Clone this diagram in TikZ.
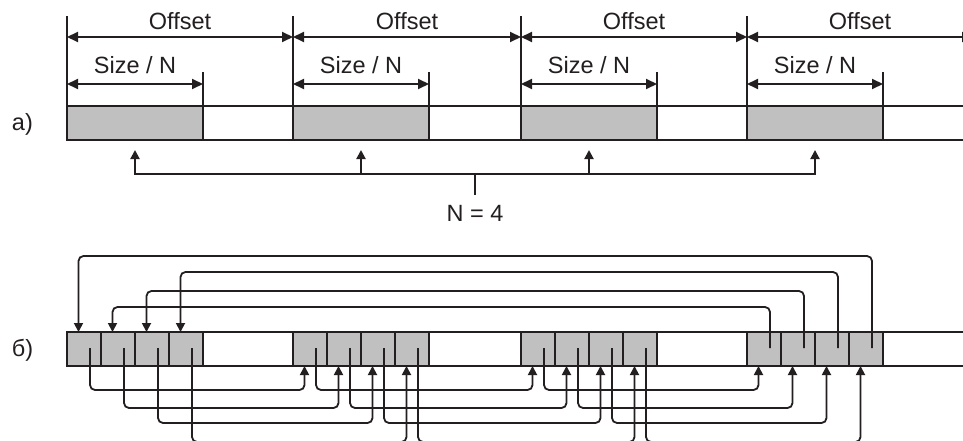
\documentclass[tikz,border=0pt]{standalone}
\usepackage{fontspec}
\setmainfont{Liberation Sans}
\usetikzlibrary{arrows.meta,calc}
\definecolor{ink}{HTML}{231F20}
\definecolor{fillg}{HTML}{C0C0C0}
\begin{document}
\begin{tikzpicture}[x=1pt,y=-1pt,
  color=ink, line width=2pt,
  every node/.style={inner sep=0pt, outer sep=0pt},
  lbl/.style={font=\fontsize{23.5}{27}\selectfont, text=ink, anchor=base},
  dimline/.style={line width=2pt, {Triangle[length=11pt,width=10pt]}-{Triangle[length=11pt,width=10pt]}},
  blk/.style={fill=fillg, draw=ink, line width=2pt, minimum width=136pt, minimum height=34pt, anchor=north west},
  cellbox/.style={fill=fillg, draw=ink, line width=2pt, minimum width=34pt, minimum height=34pt, anchor=north west},
  conn/.style={line width=1.8pt, rounded corners=5pt, -{Triangle[length=9pt,width=9pt]}},
  tipa/.style={line width=2pt, {Triangle[length=9pt,width=9pt]}-{Triangle[length=9pt,width=9pt]}},
]
\useasboundingbox (0,0) rectangle (963,441);
\clip (0,0) rectangle (963,441);

% ---------- part a ----------
\node[lbl, anchor=base west] (la) at (12,131) {a)};
\draw (67,106) -- (963,106);
\draw (67,140) -- (963,140);
\foreach \k/\x in {1/67,2/293,3/521,4/747} {
  \node[blk] (a\k) at (\x,106) {};
  \draw (a\k.south west) -- (\x,16);
  \draw (a\k.south east) -- ($(a\k.north east)+(0,-34)$);
}
\foreach \x/\xx in {67/293,293/521,521/747,747/973}
  \draw[dimline] (\x,37) -- (\xx,37);
\foreach \k in {1,...,4}
  \draw[dimline] ($(a\k.north west)+(0,-22)$) -- ($(a\k.north east)+(0,-22)$);
\foreach \c in {180,407,634,860}
  \node[lbl] at (\c,30) {Offset};
\foreach \k in {1,...,4}
  \node[lbl] (s\k) at ($(a\k.north)+(0,-32)$) {Size / N};

\coordinate (h1) at (135,174);
\coordinate (h4) at (815,174);
\draw[tipa] (135,150) -- (h1) -- (h4) -- (815,150);
\draw[-{Triangle[length=9pt,width=9pt]}] (361,174) -- (361,150);
\draw[-{Triangle[length=9pt,width=9pt]}] (589,174) -- (589,150);
\node[lbl] (n4) at (475,221) {N = 4};
\draw (475,174) -- (475,195);

% ---------- part b ----------
\node[lbl, anchor=base west] (lb) at (12,356) {б)};
\draw (67,332) -- (963,332);
\draw (67,366) -- (963,366);
\foreach \g/\s in {1/67,2/293,3/521,4/747} {
  \foreach \i in {1,...,4} {
    \pgfmathsetmacro\l{\s+34*(\i-1)}
    \node[cellbox] (c\g\i) at (\l,332) {};
    \coordinate (o\g\i) at (\l+23,348);
    \coordinate (t\g\i) at (\l+11.5,332);
    \coordinate (u\g\i) at (\l+11.5,366);
  }
}
\coordinate (lb1) at (0,390);
\coordinate (lb2) at (0,408);
\coordinate (lb3) at (0,423);
\coordinate (lb4) at (0,442);
\coordinate (lt1) at (0,256);
\coordinate (lt2) at (0,272);
\coordinate (lt3) at (0,291);
\coordinate (lt4) at (0,307);

\foreach \g/\h in {1/2,2/3,3/4}
  \foreach \i in {1,...,4}
    \draw[conn] (o\g\i) -- (o\g\i |- lb\i) -- (u\h\i |- lb\i) -- (u\h\i);

\foreach \a/\b/\v in {4/1/1,3/4/2,2/3/3,1/2/4}
  \draw[conn] (o4\a) -- (o4\a |- lt\v) -- (t1\b |- lt\v) -- (t1\b);
\end{tikzpicture}
\end{document}
